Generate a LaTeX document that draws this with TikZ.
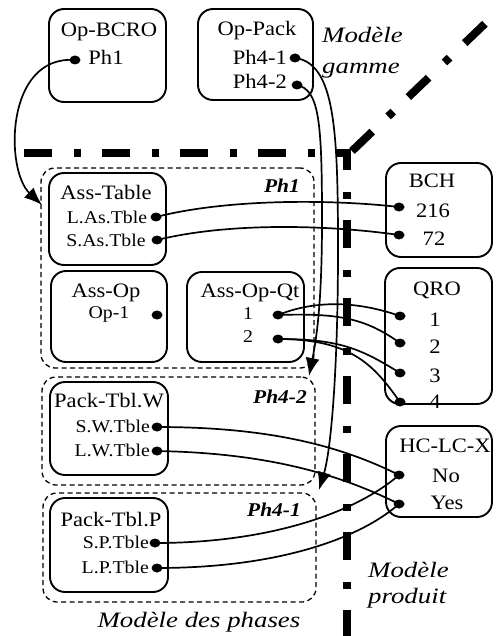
\documentclass[tikz,border=0pt]{standalone}
\usepackage{fontspec}
\setmainfont{Liberation Serif}[FakeStretch=1.1]
\newfontfamily\labfont{Liberation Serif}[FakeStretch=1.22]
\usetikzlibrary{arrows.meta,shapes.geometric}
\begin{document}
\begin{tikzpicture}[x=1pt,y=-1pt,
  box/.style={draw,line width=1.9pt,rounded corners=15pt,inner sep=0pt},
  phase/.style={draw,line width=1.3pt,dash pattern=on 5pt off 3.5pt,rounded corners=14pt,inner sep=0pt},
  ttl/.style={anchor=base,inner sep=0pt,font=\fontsize{20.5}{24}\selectfont},
  itm/.style={anchor=base,inner sep=0pt,font=\fontsize{18}{21}\selectfont},
  itme/.style={anchor=base east,inner sep=0pt,font=\fontsize{18}{21}\selectfont},
  bige/.style={anchor=base east,inner sep=0pt,font=\fontsize{20.5}{24}\selectfont},
  phl/.style={anchor=base,inner sep=0pt,font=\fontsize{19.5}{22}\selectfont\bfseries\itshape},
  mdl/.style={anchor=base west,inner sep=0pt,font=\labfont\fontsize{22}{26}\selectfont\itshape},
  mdlc/.style={anchor=base,inner sep=0pt,font=\labfont\fontsize{22}{26}\selectfont\itshape},
  dot/.style={ellipse,fill,inner sep=0pt,minimum width=11pt,minimum height=9pt},
  link/.style={line width=1.7pt},
  arr/.style={line width=1.7pt,-{Latex[length=18pt,width=14pt]}},
  sep/.style={line width=8pt,dash pattern=on 28pt off 22pt on 7pt off 21pt}
]
\fill[white] (0,0) rectangle (495,636);
\useasboundingbox (0,0) rectangle (495,636);

% separators
\draw[sep] (24,153) -- (347,153) -- (347,640);
\draw[sep] (352,151) -- (492,17);

% phase groups
\node[phase,minimum width=273pt,minimum height=200pt] (gph1) at (177.5,268) {};
\node[phase,minimum width=273pt,minimum height=108pt] (gph42) at (178.5,431) {};
\node[phase,minimum width=273pt,minimum height=109pt] (gph41) at (179.5,547.5) {};
\node[phl] (lph1) at (282,193) {Ph1};
\node[phl] (lph42) at (280,403) {Ph4-2};
\node[phl] (lph41) at (274,516) {Ph4-1};

% boxes
\node[box,minimum width=117pt,minimum height=93pt] (bcro) at (107.5,55.5) {};
\node[box,minimum width=115pt,minimum height=91pt] (pack) at (255.5,54.5) {};
\node[box,minimum width=117pt,minimum height=92pt] (asst) at (107.5,219) {};
\node[box,minimum width=116pt,minimum height=91pt] (asso) at (109,316.5) {};
\node[box,minimum width=117pt,minimum height=90pt] (assq) at (245.5,317) {};
\node[box,minimum width=118pt,minimum height=93pt] (pkw) at (109,428.5) {};
\node[box,minimum width=118pt,minimum height=94pt] (pkp) at (109,545) {};
\node[box,minimum width=106pt,minimum height=94pt] (bch) at (439,210) {};
\node[box,minimum width=107pt,minimum height=136pt] (qro) at (438.5,336) {};
\node[box,minimum width=106pt,minimum height=91pt] (hclc) at (439,471.5) {};

% texts
\node[ttl] (t1) at (109,37) {Op-BCRO};
\node[ttl] (t1a) at (106,65) {Ph1};
\node[ttl] (t2) at (257,36) {Op-Pack};
\node[bige] (t2a) at (287,65) {Ph4-1};
\node[bige] (t2b) at (287,89) {Ph4-2};
\node[mdl] (mg1) at (322,43) {Modèle};
\node[mdl] (mg2) at (322,74) {gamme};

\node[ttl] (t3) at (106,200) {Ass-Table};
\node[itm] (t3a) at (107,223) {L.As.Tble};
\node[itm] (t3b) at (106,246) {S.As.Tble};
\node[ttl] (t4) at (106,297) {Ass-Op};
\node[itm] (t4a) at (109,318) {Op-1};
\node[ttl] (t5) at (250,297) {Ass-Op-Qt};
\node[itm] (t5a) at (248,319) {1};
\node[itm] (t5b) at (248,342) {2};
\node[ttl] (t6) at (109,407) {Pack-Tbl.W};
\node[itme] (t6a) at (150,432) {S.W.Tble};
\node[itme] (t6b) at (150,456) {L.W.Tble};
\node[ttl] (t7) at (111,526) {Pack-Tbl.P};
\node[itme] (t7a) at (149,548) {S.P.Tble};
\node[itme] (t7b) at (149,573) {L.P.Tble};

\node[ttl] (t8) at (432,188) {BCH};
\node[ttl] (t8a) at (433,217) {216};
\node[ttl] (t8b) at (434,245) {72};
\node[ttl] (t9) at (437,295) {QRO};
\node[ttl] (t9a) at (435,326) {1};
\node[ttl] (t9b) at (435,353) {2};
\node[ttl] (t9c) at (435,382) {3};
\node[ttl] (t9d) at (435,408) {4};
\node[ttl] (t10) at (445,452) {HC-LC-X};
\node[ttl] (t10a) at (446,482) {No};
\node[ttl] (t10b) at (447,509) {Yes};

\node[mdl] (mp1) at (368,577) {Modèle};
\node[mdl] (mp2) at (368,603) {produit};
\node[mdlc] (mph) at (199,627) {Modèle des phases};

% dots
\node[dot] (dbcro) at (75,60) {};
\node[dot] (dp41) at (295,58) {};
\node[dot] (dp42) at (297,85) {};
\node[dot] (dlas) at (156,217) {};
\node[dot] (dsas) at (157,240) {};
\node[dot] (dop1) at (157,315) {};
\node[dot] (dq1) at (278,315) {};
\node[dot] (dq2) at (278,339) {};
\node[dot] (dsw) at (157,427) {};
\node[dot] (dlw) at (157,451) {};
\node[dot] (dsp) at (155,543) {};
\node[dot] (dlp) at (157,568) {};
\node[dot] (db216) at (399,207) {};
\node[dot] (db72) at (399,235) {};
\node[dot] (dr1) at (400,316) {};
\node[dot] (dr2) at (400,343) {};
\node[dot] (dr3) at (400,373) {};
\node[dot] (dr4) at (400,402) {};
\node[dot] (dno) at (399,475) {};
\node[dot] (dyes) at (399,504) {};

% arrow ends
\coordinate (a1) at (42,205);
\coordinate (m41) at (338,250);
\coordinate (a41) at (319,490);
\coordinate (m42) at (322,220);
\coordinate (a42) at (309,376);

% connectors
\draw[arr] (dbcro.center) .. controls +(-70,-5) and +(-37,-35) .. (a1);
\draw[link] (dp41.center) .. controls +(40,5) and +(0,-120) .. (m41);
\draw[arr] (m41) .. controls +(0,120) and +(12,-40) .. (a41);
\draw[link] (dp42.center) .. controls +(22,5) and +(0,-100) .. (m42);
\draw[arr] (m42) .. controls +(0,80) and +(8,-40) .. (a42);

\draw[link] (dlas.center) .. controls +(70,-18) and +(-70,-8) .. (db216.center);
\draw[link] (dsas.center) .. controls +(73,-18) and +(-69,-10) .. (db72.center);
\draw[link] (dq1.center) .. controls +(40,-16) and +(-40,-14) .. (dr1.center);
\draw[link] (dq1.center) .. controls +(60,-2) and +(-35,-25) .. (dr2.center);
\draw[link] (dq2.center) .. controls +(60,0) and +(-40,-25) .. (dr3.center);
\draw[link] (dq2.center) .. controls +(75,0) and +(-25,-35) .. (dr4.center);
\draw[link] (dsw.center) .. controls +(110,0) and +(-60,-30) .. (dno.center);
\draw[link] (dlw.center) .. controls +(110,2) and +(-60,-30) .. (dyes.center);
\draw[link] (dsp.center) .. controls +(120,0) and +(-40,35) .. (dno.center);
\draw[link] (dlp.center) .. controls +(120,0) and +(-40,35) .. (dyes.center);
\end{tikzpicture}
\end{document}
